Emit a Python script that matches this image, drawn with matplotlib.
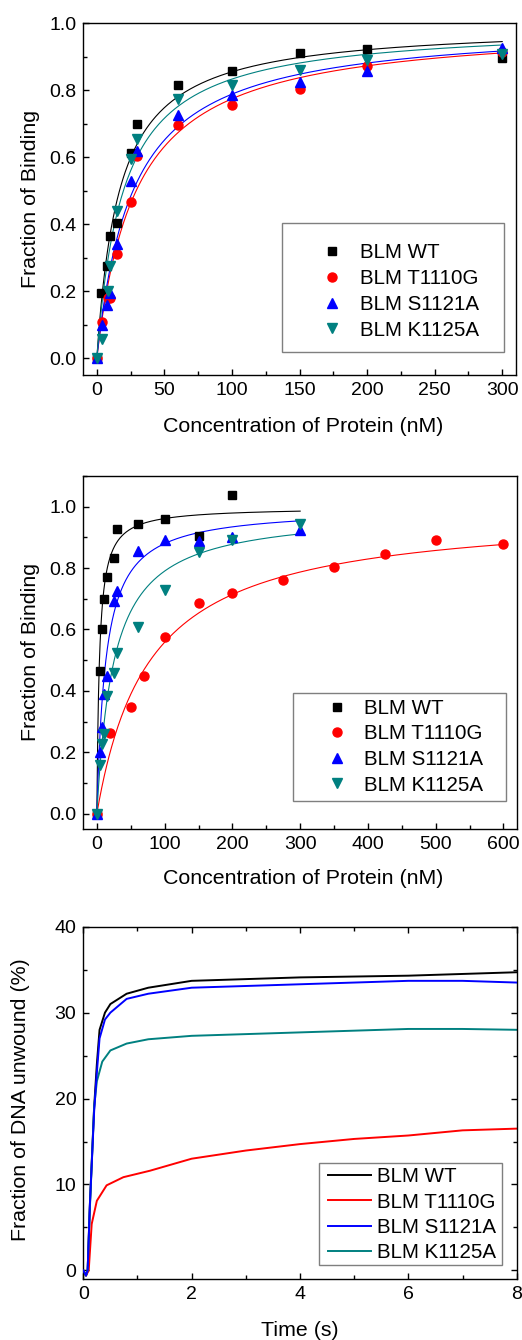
import numpy as np
import matplotlib
matplotlib.use('Agg')
import matplotlib.pyplot as plt
from matplotlib.patches import Rectangle
from matplotlib.ticker import MultipleLocator

plt.rcParams['font.family'] = ['Liberation Sans', 'DejaVu Sans']

W, H = 522, 1340

labels = ['BLM WT', 'BLM T1110G', 'BLM S1121A', 'BLM K1125A']
colors = ['#000000', '#FF0000', '#0000FF', '#008080']
markers = ['s', 'o', '^', 'v']
msizes = [5.5, 6.5, 7, 7]

# ---------------- Panel 1 data ----------------
p1_wt_x = [0, 3, 7.5, 10, 15, 25, 30, 60, 100, 150, 200, 300]
p1_wt_y = [0, 0.196, 0.276, 0.365, 0.405, 0.612, 0.698, 0.815, 0.858, 0.912, 0.922, 0.895]
p1_t_x = [0, 4, 8.5, 10, 15, 25, 30, 60, 100, 150, 200, 300]
p1_t_y = [0, 0.109, 0.18, 0.18, 0.31, 0.465, 0.604, 0.696, 0.756, 0.805, 0.873, 0.914]
p1_s_x = [0, 4, 7.5, 10, 15, 25, 30, 60, 100, 150, 200, 300]
p1_s_y = [0, 0.10, 0.159, 0.196, 0.34, 0.529, 0.619, 0.726, 0.785, 0.825, 0.858, 0.925]
p1_k_x = [0, 4, 8, 10, 15, 25, 30, 60, 100, 150, 200, 300]
p1_k_y = [0, 0.057, 0.2, 0.276, 0.44, 0.594, 0.654, 0.775, 0.815, 0.861, 0.89, 0.907]
# hyperbolic fit parameters (Bmax, Kd in nM), fit range max
p1_bmax = [0.998, 1.0, 0.999, 0.996]
p1_kd = [16.7, 29.1, 26.7, 19.5]
p1_fitmax = [300, 300, 300, 300]

# ---------------- Panel 2 data ----------------
p2_wt_x = [0, 4, 8, 10, 15, 25, 30, 60, 100, 150, 200]
p2_wt_y = [0, 0.464, 0.600, 0.699, 0.771, 0.833, 0.926, 0.943, 0.961, 0.905, 1.038]
p2_t_x = [0, 20, 50, 70, 100, 150, 200, 275, 350, 425, 500, 600]
p2_t_y = [0, 0.263, 0.348, 0.448, 0.576, 0.687, 0.718, 0.761, 0.803, 0.847, 0.890, 0.879]
p2_s_x = [0, 4, 8, 10, 15, 25, 30, 60, 100, 150, 200, 300]
p2_s_y = [0, 0.201, 0.282, 0.391, 0.448, 0.692, 0.725, 0.856, 0.891, 0.888, 0.902, 0.924]
p2_k_x = [0, 4, 8, 10, 15, 25, 30, 60, 100, 150, 200, 300]
p2_k_y = [0, 0.158, 0.226, 0.261, 0.383, 0.459, 0.522, 0.609, 0.728, 0.851, 0.891, 0.943]
p2_bmax = [0.998, 0.99, 0.996, 0.987]
p2_kd = [3.8, 77.3, 13.2, 24.9]
p2_fitmax = [300, 600, 300, 300]

# ---------------- Panel 3 data (unwinding kinetics) ----------------
p3_wt_t = [0, 0.05, 0.08, 0.12, 0.2, 0.25, 0.3, 0.4, 0.5, 0.8, 1.2, 2, 3, 4, 5, 6, 7, 8]
p3_wt_y = [0, -0.6, 0, 7.5, 19, 24, 28, 30, 31, 32.2, 32.9, 33.7, 33.9, 34.1, 34.2, 34.3, 34.5, 34.7]
p3_t_t = [0, 0.05, 0.1, 0.155, 0.25, 0.43, 0.74, 1.23, 2, 3, 4, 5, 6, 7, 8]
p3_t_y = [0, -0.6, 0, 5.4, 8.1, 9.9, 10.85, 11.6, 13.0, 13.95, 14.7, 15.3, 15.7, 16.3, 16.5]
p3_s_t = [0, 0.05, 0.08, 0.12, 0.2, 0.25, 0.3, 0.4, 0.5, 0.8, 1.2, 2, 3, 4, 5, 6, 7, 8]
p3_s_y = [0, -0.6, 0, 7.4, 18.5, 23, 27, 29.2, 30, 31.6, 32.2, 32.9, 33.1, 33.3, 33.5, 33.7, 33.7, 33.5]
p3_k_t = [0, 0.05, 0.08, 0.12, 0.2, 0.25, 0.35, 0.5, 0.8, 1.2, 2, 3, 4, 5, 6, 7, 8]
p3_k_y = [0, -0.6, 0, 7, 19, 22, 24.3, 25.6, 26.4, 26.9, 27.3, 27.5, 27.7, 27.9, 28.1, 28.1, 28.0]

TICK_FS = 14
LABEL_FS = 15.4
LEG_FS = 14.8
FS_PX = LEG_FS * 100 / 72


def px_axes(ax, xp, yp):
    """convert figure pixel coords (origin top-left) to axes fraction"""
    bb = ax.get_position()
    x0 = bb.x0 * W
    x1 = bb.x1 * W
    y_top = (1 - bb.y1) * H
    y_bot = (1 - bb.y0) * H
    return (xp - x0) / (x1 - x0), (y_bot - yp) / (y_bot - y_top)


def make_axes(rect_px):
    l, t, r, b = rect_px
    return fig.add_axes([l / W, 1 - b / H, (r - l) / W, (b - t) / H])


def style(ax, allsides=False):
    for sp in ax.spines.values():
        sp.set_linewidth(1.0)
    ax.tick_params(which='both', direction='in', labelsize=TICK_FS,
                   top=allsides, right=allsides, width=1.0)
    ax.tick_params(which='major', length=4.5, pad=5)
    ax.tick_params(which='minor', length=3)


def framed_legend(ax, box_px, text_x, row1_y, row_pitch, handlelength, handletextpad):
    x0, y0 = px_axes(ax, box_px[0], box_px[3])
    x1, y1 = px_axes(ax, box_px[2], box_px[1])
    ax.add_patch(Rectangle((x0, y0), x1 - x0, y1 - y0, transform=ax.transAxes,
                           facecolor='white', edgecolor='#7f7f7f', lw=1.0, zorder=5))
    ls = 0.15
    anchor_px = [text_x - (handlelength + handletextpad) * FS_PX, row1_y - 0.5 * FS_PX]
    leg = None
    for _ in range(3):
        if leg is not None:
            leg.remove()
        leg = ax.legend(loc='upper left', bbox_to_anchor=px_axes(ax, *anchor_px),
                        frameon=False, borderpad=0, borderaxespad=0, fontsize=LEG_FS,
                        handlelength=handlelength, handletextpad=handletextpad,
                        labelspacing=ls, numpoints=1)
        leg.set_zorder(6)
        fig.canvas.draw()
        r = fig.canvas.get_renderer()
        bbs = [t.get_window_extent(r) for t in leg.get_texts()]
        cys = [H - (b.y0 + b.y1) / 2 for b in bbs]
        pitch = (cys[-1] - cys[0]) / 3
        ls += (row_pitch - pitch) / FS_PX
        anchor_px[0] += text_x - bbs[0].x0
        anchor_px[1] += row1_y - cys[0]
    return leg


fig = plt.figure(figsize=(W / 100, H / 100), dpi=100)

# ---------------- Panel 1 ----------------
ax1 = make_axes((83.3, 23.3, 515.7, 375))
xs1 = [p1_wt_x, p1_t_x, p1_s_x, p1_k_x]
ys1 = [p1_wt_y, p1_t_y, p1_s_y, p1_k_y]
for i in range(4):
    xf = np.linspace(0, p1_fitmax[i], 400)
    ax1.plot(xf, p1_bmax[i] * xf / (p1_kd[i] + xf), color=colors[i], lw=0.8, zorder=2)
for i in range(4):
    ax1.plot(xs1[i], ys1[i], linestyle='none', marker=markers[i], color=colors[i],
             ms=msizes[i], label=labels[i], zorder=3)
ax1.set_xlim(-10, 310)
ax1.set_ylim(-0.05, 1.0)
ax1.xaxis.set_major_locator(MultipleLocator(50))
ax1.xaxis.set_minor_locator(MultipleLocator(25))
ax1.yaxis.set_major_locator(MultipleLocator(0.2))
ax1.yaxis.set_minor_locator(MultipleLocator(0.1))
ax1.yaxis.set_major_formatter(plt.FormatStrFormatter('%.1f'))
style(ax1)
ax1.set_xlabel('Concentration of Protein (nM)', fontsize=LABEL_FS)
ax1.set_ylabel('Fraction of Binding', fontsize=LABEL_FS)
ax1.xaxis.set_label_coords(*px_axes(ax1, 303.5, 426.5))
ax1.xaxis.label.set_va('center')
ax1.yaxis.set_label_coords(*px_axes(ax1, 31, 199))
ax1.yaxis.label.set_va('center')

# ---------------- Panel 2 ----------------
ax2 = make_axes((83.3, 476, 517, 829))
xs2 = [p2_wt_x, p2_t_x, p2_s_x, p2_k_x]
ys2 = [p2_wt_y, p2_t_y, p2_s_y, p2_k_y]
for i in range(4):
    xf = np.linspace(0, p2_fitmax[i], 500)
    ax2.plot(xf, p2_bmax[i] * xf / (p2_kd[i] + xf), color=colors[i], lw=0.8, zorder=2)
for i in range(4):
    ax2.plot(xs2[i], ys2[i], linestyle='none', marker=markers[i], color=colors[i],
             ms=msizes[i], label=labels[i], zorder=3)
ax2.set_xlim(-20, 620)
ax2.set_ylim(-0.05, 1.1)
ax2.xaxis.set_major_locator(MultipleLocator(100))
ax2.xaxis.set_minor_locator(MultipleLocator(50))
ax2.yaxis.set_major_locator(MultipleLocator(0.2))
ax2.yaxis.set_minor_locator(MultipleLocator(0.1))
ax2.yaxis.set_major_formatter(plt.FormatStrFormatter('%.1f'))
style(ax2)
ax2.set_xlabel('Concentration of Protein (nM)', fontsize=LABEL_FS)
ax2.set_ylabel('Fraction of Binding', fontsize=LABEL_FS)
ax2.xaxis.set_label_coords(*px_axes(ax2, 303.5, 878.5))
ax2.xaxis.label.set_va('center')
ax2.yaxis.set_label_coords(*px_axes(ax2, 31, 652))
ax2.yaxis.label.set_va('center')

# ---------------- Panel 3 ----------------
ax3 = make_axes((83.3, 926.7, 516.7, 1279))
ts3 = [p3_wt_t, p3_t_t, p3_s_t, p3_k_t]
ys3 = [p3_wt_y, p3_t_y, p3_s_y, p3_k_y]
for i in range(4):
    ax3.plot(ts3[i], ys3[i], color=colors[i], lw=1.4, label=labels[i], zorder=2 + (i == 2))
ax3.set_xlim(0, 8)
ax3.set_ylim(-1, 40)
ax3.xaxis.set_major_locator(MultipleLocator(2))
ax3.xaxis.set_minor_locator(MultipleLocator(1))
ax3.yaxis.set_major_locator(MultipleLocator(10))
ax3.yaxis.set_minor_locator(MultipleLocator(5))
style(ax3, allsides=True)
ax3.set_xlabel('Time (s)', fontsize=LABEL_FS)
ax3.set_ylabel('Fraction of DNA unwound (%)', fontsize=LABEL_FS)
ax3.xaxis.set_label_coords(*px_axes(ax3, 300, 1330))
ax3.xaxis.label.set_va('center')
ax3.yaxis.set_label_coords(*px_axes(ax3, 20, 1100))
ax3.yaxis.label.set_va('center')

# legends (framed, positioned as in the reference)
framed_legend(ax1, (282, 223, 504, 352), 360, 252.7, 25.8, 1.0, 0.85)
framed_legend(ax2, (293, 693, 506, 801), 364, 708.3, 25.6, 1.0, 0.81)
framed_legend(ax3, (319, 1163, 502, 1265), 376.7, 1176.7, 25.3, 2.07, 0.3)

fig.savefig('out.png', dpi=100)
